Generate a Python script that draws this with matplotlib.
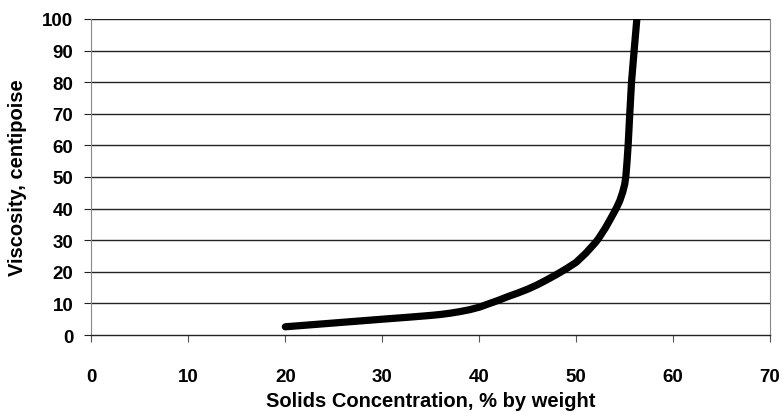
import matplotlib.pyplot as plt

plt.rcParams['font.family'] = ['Liberation Sans', 'DejaVu Sans']
plt.rcParams['font.weight'] = 'bold'

# values
solids = [20, 25, 30, 33, 35, 36, 37, 38, 39, 40, 41, 42, 43, 44, 45, 46, 47, 48, 49, 50,
          51, 52, 52.3, 53, 53.5, 54, 54.2, 54.5, 54.8, 55.0, 55.12, 55.25, 55.36, 55.53, 55.71, 55.98, 56.26]
viscosity = [2.6, 3.8, 5.0, 5.7, 6.2, 6.5, 6.9, 7.4, 8.0, 8.8, 9.9, 11.0, 12.2, 13.3, 14.5, 15.9, 17.5, 19.2, 21.0, 23.0,
             25.9, 29.3, 30.5, 33.8, 36.5, 39.3, 40.5, 42.5, 45.2, 47.6, 50.0, 55.0, 60.0, 70.0, 80.0, 90.0, 100.0]

x_ticks = [0, 10, 20, 30, 40, 50, 60, 70]
y_ticks = [0, 10, 20, 30, 40, 50, 60, 70, 80, 90, 100]

fig = plt.figure(figsize=(7.82, 4.14), dpi=100)
ax = fig.add_axes([0.117, 0.1884, 0.8677, 0.7633])

for yv in y_ticks[1:]:
    ax.axhline(yv, color='#222222', linewidth=1.0, zorder=1)

ax.plot(solids, viscosity, color='black', linewidth=5.2, solid_capstyle='round',
        solid_joinstyle='round', zorder=3)

ax.set_xlim(0, 70)
ax.set_ylim(0, 100)
ax.set_xticks(x_ticks)
ax.set_yticks(y_ticks)
ax.tick_params(axis='x', direction='out', length=5, width=0.8, color='#555555',
               pad=19, labelsize=13.5)
ax.tick_params(axis='y', direction='out', length=5, width=0.8, color='#222222',
               pad=8, labelsize=13.5)

ax.spines['top'].set_visible(False)
ax.spines['left'].set_color('#888888')
ax.spines['right'].set_color('#888888')
ax.spines['bottom'].set_color('#222222')
ax.spines['left'].set_linewidth(0.8)
ax.spines['right'].set_linewidth(0.8)
ax.spines['bottom'].set_linewidth(1.0)

ax.set_xlabel('Solids Concentration, % by weight', fontsize=14.5, fontweight='bold', labelpad=4)
ax.set_ylabel('Viscosity, centipoise', fontsize=14.5, fontweight='bold', labelpad=11)

fig.savefig('out.png', dpi=100)
